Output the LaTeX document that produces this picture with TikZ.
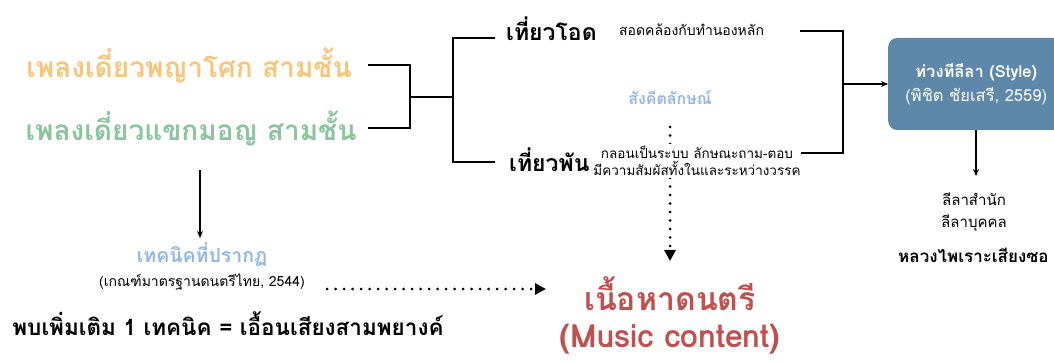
\documentclass[tikz,border=0pt]{standalone}
\usepackage{fontspec}
\setmainfont[Script=Thai]{Loma}
\usetikzlibrary{arrows.meta}
\definecolor{cOrange}{HTML}{F9C57A}
\definecolor{cGreen}{HTML}{8CC49E}
\definecolor{cLBlue}{HTML}{93B8DF}
\definecolor{cRed}{HTML}{C0504D}
\definecolor{cBox}{HTML}{5E88AA}
\tikzset{
  every node/.style={inner sep=1pt},
  bigtitle/.style={font=\fontsize{28}{31}\selectfont\bfseries},
  head/.style={font=\fontsize{23}{26}\selectfont\bfseries, text=black},
  small/.style={font=\fontsize{14}{16}\selectfont, fill=white},
  sub/.style={font=\fontsize{16}{18}\selectfont\bfseries, text=cLBlue},
  line/.style={draw=black, line width=1.1pt},
  arr/.style={line, -{Stealth[length=7pt,width=6pt]}},
  dotarr/.style={draw=black, line width=3pt, dash pattern=on 0pt off 8.5pt, line cap=round, -{Triangle[length=11pt,width=11pt]}},
  stylebox/.style={fill=cBox, rounded corners=9pt, minimum width=176pt, minimum height=92pt},
  music/.style={font=\fontsize{32}{35}\selectfont\bfseries, text=cRed}
}
\begin{document}
\begin{tikzpicture}[x=1pt,y=-1pt]
\useasboundingbox[fill=white] (0,0) rectangle (1054,363);

% left titles
\node[bigtitle, text=cOrange] (t1) at (189,66) {เพลงเดี่ยวพญาโศก สามชั้น};
\node[bigtitle, text=cGreen] (t2) at (191,129) {เพลงเดี่ยวแขกมอญ สามชั้น};

% middle
\node[head, anchor=west] (od) at (505,29) {เที่ยวโอด};
\node[head, anchor=west] (phan) at (508,160) {เที่ยวพัน};
\node[small, anchor=west] (odd) at (618,30) {สอดคล้องกับทำนองหลัก};
\node[sub] (sk) at (670,98) {สังคีตลักษณ์};
\node[music] (mc1) at (670,294) {เนื้อหาดนตรี};
\node[music, anchor=base] (mc2) at (670,347) {(Music content)};

% right box
\node[stylebox, anchor=west, align=center, text=white] (box) at (888,84)
  {\fontsize{16.5}{19}\selectfont\bfseries ท่วงทีลีลา (Style)\\[6pt]\fontsize{16.5}{19}\selectfont (พิชิต ชัยเสรี, 2559)};
\node[font=\fontsize{15}{17}\selectfont] (lila1) at (974,199) {ลีลาสำนัก};
\node[font=\fontsize{15}{17}\selectfont] (lila2) at (974,223) {ลีลาบุคคล};
\node[font=\fontsize{17}{20}\selectfont\bfseries, anchor=west] (lp) at (897,255) {หลวงไพเราะเสียงซอ};

% bottom left
\node[sub, font=\fontsize{19.5}{22}\selectfont\bfseries] (tech) at (202,255) {เทคนิคที่ปรากฏ};
\node[small] (crit) at (202,282) {(เกณฑ์มาตรฐานดนตรีไทย, 2544)};
\node[font=\fontsize{22.5}{25}\selectfont\bfseries] (found) at (228,324) {พบเพิ่มเติม 1 เทคนิค = เอื้อนเสียงสามพยางค์};

% bracket coordinates
\coordinate (a1) at (368,65);
\coordinate (a2) at (368,128);
\coordinate (j1) at (410,97);
\coordinate (j2) at (453,97);
\coordinate (b1) at (495,38);
\coordinate (b2) at (495,162);
\coordinate (c1) at (800,31);
\coordinate (c2) at (800,153);
\coordinate (j3) at (843,84);
\coordinate (bx) at (976,130);
\coordinate (bl) at (976,176);
\coordinate (d1) at (200,170);
\coordinate (d2) at (200,238);
\coordinate (e1) at (327,289);
\coordinate (e2) at (546,289);
\coordinate (f1) at (670,127);
\coordinate (f2) at (670,261);

\draw[line] (a1) -| (j1) |- (a2);
\draw[line] (j1) -- (j2);
\draw[line] (b1) -| (j2) |- (b2);
\draw[line] (c1) -| (j3) |- (c2);
\draw[arr] (j3) -- (box.west);
\draw[arr] (bx) -- (bl);
\draw[arr] (d1) -- (d2);

% dotted connectors
\draw[dotarr] (f1) -- (f2);
\draw[dotarr] (e1) -- (e2);
\node[font=\fontsize{13.5}{15.5}\selectfont, fill=white, align=center, inner xsep=0pt, inner ysep=2pt] (phand) at (697,161) {กลอนเป็นระบบ ลักษณะถาม-ตอบ\\[2pt]มีความสัมผัสทั้งในและระหว่างวรรค};
\end{tikzpicture}
\end{document}
